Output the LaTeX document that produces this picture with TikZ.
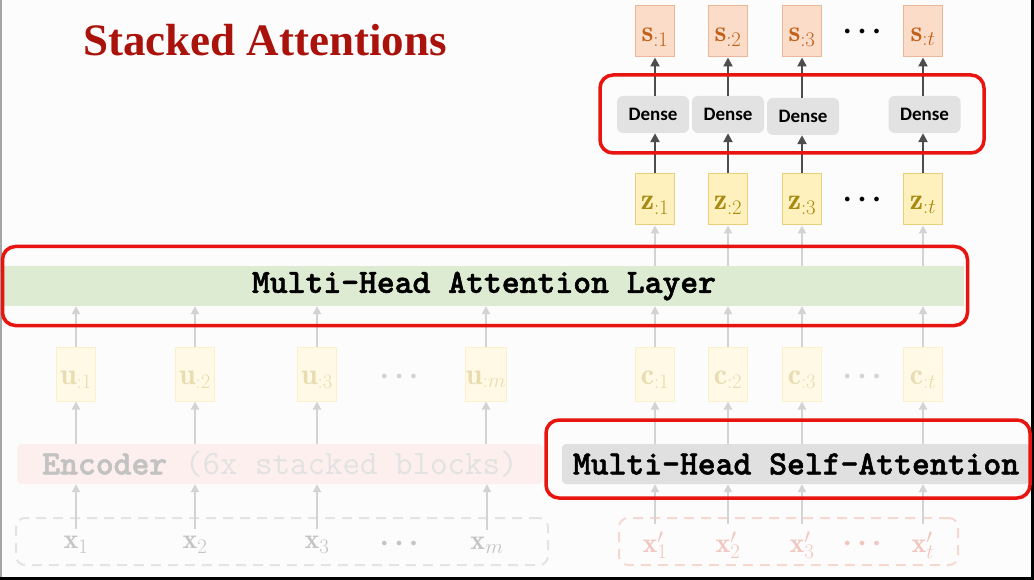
\documentclass[tikz,border=0pt]{standalone}
\usepackage{fontspec}
\usetikzlibrary{arrows.meta}
\newfontfamily\titlefont{Liberation Serif}
\newfontfamily\densefont{Carlito}
\newfontfamily\heavymono{lmmonolt10-bold.otf}[FakeBold=1.5]
\definecolor{bgc}{HTML}{FCFCFC}
\definecolor{titlec}{HTML}{AA120C}
\definecolor{redc}{HTML}{E8140F}
\definecolor{sfill}{HTML}{FBDCC8}
\definecolor{sdraw}{HTML}{E8B898}
\definecolor{stext}{HTML}{C0601A}
\definecolor{zfill}{HTML}{FFF1BD}
\definecolor{zdraw}{HTML}{E8CF78}
\definecolor{ztext}{HTML}{A88A10}
\definecolor{ufill}{HTML}{FFF9E6}
\definecolor{udraw}{HTML}{FBF0CC}
\definecolor{utext}{HTML}{E8DCB0}
\definecolor{densefill}{HTML}{E2E2E2}
\definecolor{darkarr}{HTML}{4D4D4D}
\definecolor{lightarr}{HTML}{D3D3D3}
\definecolor{greenfill}{HTML}{DDEBD3}
\definecolor{grayfill}{HTML}{E0E0E0}
\definecolor{encfill}{HTML}{FCEFEE}
\definecolor{enctext}{HTML}{C2C2C2}
\definecolor{enctextl}{HTML}{E2E2E2}
\definecolor{xtext}{HTML}{C4C4C4}
\definecolor{xptext}{HTML}{F2C6BE}
\definecolor{xdash}{HTML}{E4E4E4}
\definecolor{xpdash}{HTML}{F5D8D0}
\newcommand\threedots{$\bullet\hspace{6pt}\bullet\hspace{6pt}\bullet$}
\tikzset{
  vecbox/.style={line width=1pt, minimum width=39pt, minimum height=51pt, inner sep=0pt,
    font=\fontsize{30}{30}\selectfont, text height=20pt, text depth=0pt},
  sbox/.style={vecbox, draw=sdraw, fill=sfill, text=stext},
  zbox/.style={vecbox, draw=zdraw, fill=zfill, text=ztext},
  ubox/.style={vecbox, minimum height=54pt, draw=udraw, fill=ufill, text=utext},
  densebox/.style={fill=densefill, rounded corners=6pt, minimum width=72pt, minimum height=37pt,
    inner sep=0pt, font=\densefont\bfseries\fontsize{19}{19}\selectfont},
  redbox/.style={draw=redc, line width=3.5pt, rounded corners=13pt, inner sep=0pt},
  band/.style={inner sep=0pt, minimum height=40pt, font=\heavymono\fontsize{34}{34}\selectfont},
  darr/.style={draw=darkarr, line width=2.5pt, -{Triangle[length=9pt,width=9pt]}},
  garr/.style={draw=lightarr, line width=2pt, -{Triangle[length=8pt,width=8pt]}},
  dotsnode/.style={inner sep=0pt, font=\fontsize{13}{13}\selectfont},
  xlab/.style={inner sep=0pt, font=\fontsize{28}{28}\selectfont},
  dashbox/.style={line width=2pt, dash pattern=on 10pt off 7pt, rounded corners=9pt, inner sep=0pt}
}
\begin{document}
\begin{tikzpicture}[x=1pt,y=-1pt]
% background and frame
\fill[bgc] (0,0) rectangle (1034,580);
\useasboundingbox (0,0) rectangle (1034,580);
\fill[gray!70] (0,0) rectangle (2,580);
\fill[black] (1031,0) rectangle (1034,580);
\fill[black] (0,577) rectangle (1034,580);

% title
\node[text=titlec, font=\titlefont\bfseries\fontsize{45}{45}\selectfont, inner sep=0pt] (title) at (265,40) {Stacked Attentions};

% bands
\node[band, fill=greenfill, minimum width=960pt] (mha) at (484,286) {Multi-Head Attention Layer};
\node[band, fill=encfill, minimum width=526pt, rounded corners=4pt, text=enctext] (enc) at (280,464)
  {Encoder {\ttfamily\mdseries\textcolor{enctextl}{(6x stacked blocks)}}};
\node[band, fill=grayfill, minimum width=468pt, rounded corners=4pt] (mhsa) at (796,464) {Multi-Head Self-Attention};

% dashed input boxes
\node[dashbox, draw=xdash, minimum width=532pt, minimum height=47pt] (xbox) at (282,541.5) {};
\node[dashbox, draw=xpdash, minimum width=339pt, minimum height=47pt] (xpbox) at (788.5,541.5) {};

% inputs x
\node[xlab, text=xtext] (x1) at (76,545) {$\mathbf{x}_1$};
\node[xlab, text=xtext] (x2) at (195,545) {$\mathbf{x}_2$};
\node[xlab, text=xtext] (x3) at (317,545) {$\mathbf{x}_3$};
\node[dotsnode, text=xtext] (xd) at (399,544) {\threedots};
\node[xlab, text=xtext] (xm) at (487,545) {$\mathbf{x}_m$};
% inputs x'
\node[xlab, text=xptext] (xp1) at (655,545) {$\mathbf{x}'_1$};
\node[xlab, text=xptext] (xp2) at (728,545) {$\mathbf{x}'_2$};
\node[xlab, text=xptext] (xp3) at (802,545) {$\mathbf{x}'_3$};
\node[dotsnode, text=xptext] (xpd) at (862,544) {\threedots};
\node[xlab, text=xptext] (xpt) at (923,545) {$\mathbf{x}'_t$};

% u and c vectors
\node[ubox] (u1) at (76,374) {$\mathbf{u}_{:1}$};
\node[ubox] (u2) at (195,374) {$\mathbf{u}_{:2}$};
\node[ubox] (u3) at (317,374) {$\mathbf{u}_{:3}$};
\node[dotsnode, text=lightarr] (ud) at (399,377) {\threedots};
\node[ubox] (um) at (486,374) {$\mathbf{u}_{:m}$};
\node[ubox] (c1) at (655,374) {$\mathbf{c}_{:1}$};
\node[ubox] (c2) at (728,374) {$\mathbf{c}_{:2}$};
\node[ubox] (c3) at (802,374) {$\mathbf{c}_{:3}$};
\node[dotsnode, text=lightarr] (cd) at (862,377) {\threedots};
\node[ubox] (ct) at (923,374) {$\mathbf{c}_{:t}$};

% z vectors
\node[zbox] (z1) at (655,199.5) {$\mathbf{z}_{:1}$};
\node[zbox] (z2) at (728,199.5) {$\mathbf{z}_{:2}$};
\node[zbox] (z3) at (802,199.5) {$\mathbf{z}_{:3}$};
\node[dotsnode] (zd) at (862,200) {\threedots};
\node[zbox] (zt) at (923,199.5) {$\mathbf{z}_{:t}$};

% dense layers
\node[densebox] (d1) at (653,114.5) {Dense};
\node[densebox] (d2) at (728,114.5) {Dense};
\node[densebox] (d3) at (803,116.5) {Dense};
\node[densebox] (d4) at (924.5,114.5) {Dense};

% s outputs
\node[sbox] (s1) at (655,31.5) {$\mathbf{s}_{:1}$};
\node[sbox] (s2) at (728,31.5) {$\mathbf{s}_{:2}$};
\node[sbox] (s3) at (802,31.5) {$\mathbf{s}_{:3}$};
\node[dotsnode] (sd) at (862,32) {\threedots};
\node[sbox] (st) at (923,31.5) {$\mathbf{s}_{:t}$};

% light arrows: x -> encoder -> u -> mha
\foreach \a/\b in {x1/u1,x2/u2,x3/u3,xm/um}{
  \draw[garr] ([yshift=7pt]\a.north) -- (\a |- enc.south);
  \draw[garr] (\b |- enc.north) -- (\b.south);
  \draw[garr] (\b.north) -- (\b |- mha.south);
}
\foreach \a/\b/\z in {xp1/c1/z1,xp2/c2/z2,xp3/c3/z3,xpt/ct/zt}{
  \draw[garr] ([yshift=7pt]\a.north) -- (\a |- mhsa.south);
  \draw[garr] (\b |- mhsa.north) -- (\b.south);
  \draw[garr] (\b.north) -- (\b |- mha.south);
  \draw[garr] (\z |- mha.north) -- (\z.south);
}

% dark arrows: z -> dense -> s
\foreach \z/\d/\s in {z1/d1/s1,z2/d2/s2,z3/d3/s3,zt/d4/st}{
  \draw[darr] (\z.north) -- (\z |- \d.south);
  \draw[darr] (\s |- \d.north) -- (\s.south);
}

% red highlight boxes
\node[redbox, minimum width=384pt, minimum height=78pt] (densered) at (792,114) {};
\node[redbox, minimum width=965pt, minimum height=79pt] (mhared) at (485,286) {};
\node[redbox, minimum width=484pt, minimum height=78pt] (mhsared) at (788,459) {};
\end{tikzpicture}
\end{document}
